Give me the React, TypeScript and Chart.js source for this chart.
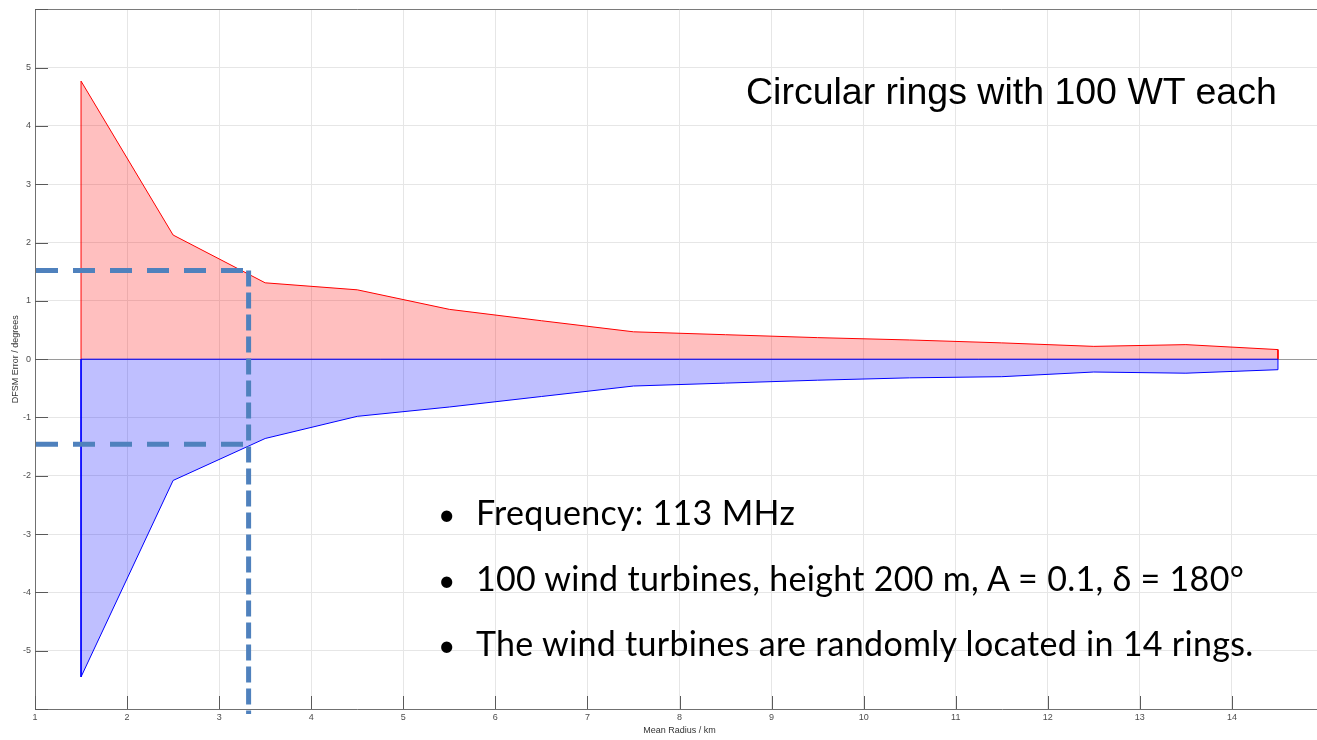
import React, { useEffect, useRef } from "react";
import { Chart, registerables } from "chart.js";

Chart.register(...registerables);

// Ring mean radii (km)
const radii = [1.5, 2.5, 3.5, 4.5, 5.5, 6.5, 7.5, 8.5, 9.5, 10.5, 11.5, 12.5, 13.5, 14.5];
// Upper envelope of DFSM error (degrees)
const upperError = [4.77, 2.13, 1.31, 1.19, 0.855, 0.66, 0.47, 0.42, 0.37, 0.33, 0.28, 0.22, 0.25, 0.165];
// Lower envelope of DFSM error (degrees)
const lowerError = [-5.45, -2.08, -1.36, -0.98, -0.82, -0.64, -0.46, -0.41, -0.36, -0.32, -0.3, -0.22, -0.24, -0.18];

// Axis ranges / tick labels
const xTicksHidden = [15];
const yTicksHidden = [-6, 6];

// Annotation (reading of the error at 3.32 km)
const markerRadius = 3.32;
const markerUpper = 1.52;
const markerLower = -1.46;

const titleText = "Circular rings with 100 WT each";
const bulletLines = [
  "Frequency: 113 MHz",
  "100 wind turbines, height 200 m, A = 0.1, δ = 180°",
  "The wind turbines are randomly located in 14 rings.",
];

const tickFont = { family: "'Liberation Sans', Arial, sans-serif", size: 9 };

const axisDecor = {
  id: "axisDecor",
  afterDatasetsDraw(chart: any) {
    const { ctx, chartArea: a, scales } = chart;
    const xs = scales.x;
    const ys = scales.y;
    ctx.save();
    // box (top edge)
    ctx.strokeStyle = "#7a7a7a";
    ctx.lineWidth = 1;
    ctx.beginPath();
    ctx.moveTo(a.left, Math.round(a.top) + 0.5);
    ctx.lineTo(a.right, Math.round(a.top) + 0.5);
    ctx.stroke();
    // inward ticks
    ctx.strokeStyle = "#5a5a5a";
    ctx.beginPath();
    ys.ticks.forEach((t: any) => {
      const y = Math.round(ys.getPixelForValue(t.value)) + 0.5;
      ctx.moveTo(a.left, y);
      ctx.lineTo(a.left + 13, y);
    });
    xs.ticks.forEach((t: any) => {
      const x = Math.round(xs.getPixelForValue(t.value)) + 0.5;
      ctx.moveTo(x, a.bottom);
      ctx.lineTo(x, a.bottom - 13);
    });
    ctx.stroke();

    // dashed marker lines
    const xm = xs.getPixelForValue(markerRadius);
    const yu = ys.getPixelForValue(markerUpper);
    const yl = ys.getPixelForValue(markerLower);
    ctx.strokeStyle = "#4f81bd";
    ctx.lineWidth = 5;
    ctx.setLineDash([22, 15]);
    ctx.beginPath();
    ctx.moveTo(a.left + 1, yu);
    ctx.lineTo(xm, yu);
    ctx.moveTo(a.left + 1, yl);
    ctx.lineTo(xm, yl);
    ctx.stroke();
    ctx.setLineDash([16, 6]);
    ctx.beginPath();
    ctx.moveTo(xm, yu);
    ctx.lineTo(xm, a.bottom + 5);
    ctx.stroke();
    ctx.restore();
  },
};

export default function App() {
  const ref = useRef<HTMLCanvasElement | null>(null);

  useEffect(() => {
    if (!ref.current) return;
    const last = radii.length - 1;
    const upperData = [
      { x: radii[0], y: 0 },
      ...radii.map((r, i) => ({ x: r, y: upperError[i] })),
      { x: radii[last], y: 0 },
    ];
    const lowerData = [
      { x: radii[0], y: 0 },
      ...radii.map((r, i) => ({ x: r, y: lowerError[i] })),
      { x: radii[last], y: 0 },
    ];
    const zeroData = [
      { x: radii[0], y: 0 },
      { x: radii[last], y: 0 },
    ];
    const chart = new Chart(ref.current, {
      type: "line",
      data: {
        datasets: [
          {
            label: "upper",
            data: upperData,
            borderColor: "#ff0000",
            backgroundColor: "rgba(255,0,0,0.25)",
            borderWidth: 1,
            pointRadius: 0,
            fill: "origin",
            order: 3,
            tension: 0,
          },
          {
            label: "lower",
            data: lowerData,
            borderColor: "#0000ff",
            backgroundColor: "rgba(0,0,255,0.25)",
            borderWidth: 1,
            pointRadius: 0,
            fill: "origin",
            order: 2,
            tension: 0,
          },
          {
            label: "zero",
            data: zeroData,
            borderColor: "#0000ff",
            borderWidth: 1,
            pointRadius: 0,
            fill: false,
            order: 1,
          },
        ],
      },
      options: {
        animation: false,
        responsive: false,
        devicePixelRatio: 1,
        layout: { padding: { top: 4, left: 0, right: 0, bottom: 0 } },
        plugins: { legend: { display: false }, tooltip: { enabled: false } },
        scales: {
          x: {
            type: "linear",
            min: 1,
            max: 15,
            ticks: {
              stepSize: 1,
              font: tickFont,
              color: "#4d4d4d",
              padding: 3,
              maxRotation: 0,
              callback: (v: any) => (xTicksHidden.includes(v) ? "" : String(v)),
            },
            grid: { color: "#e6e6e6", drawTicks: false },
            border: { color: "#707070" },
            title: {
              display: true,
              text: "Mean Radius / km",
              font: tickFont,
              color: "#333333",
              padding: { top: 0, bottom: 4 },
            },
            afterFit: (s: any) => {
              s.height = 31;
            },
          },
          y: {
            type: "linear",
            min: -6,
            max: 6,
            ticks: {
              stepSize: 1,
              font: tickFont,
              color: "#4d4d4d",
              padding: 4,
              callback: (v: any) => (yTicksHidden.includes(v) ? "" : String(v)),
            },
            grid: {
              color: (c: any) => (c.tick && c.tick.value === 0 ? "#9a9a9a" : "#e6e6e6"),
              drawTicks: false,
            },
            border: { color: "#707070" },
            title: {
              display: true,
              text: "DFSM Error / degrees",
              font: tickFont,
              color: "#333333",
              padding: { top: 10, bottom: 0 },
            },
            afterFit: (s: any) => {
              s.width = 35;
            },
          },
        },
      },
      plugins: [axisDecor],
    });
    return () => chart.destroy();
  }, []);

  const bulletFont = "34px Lato, 'Open Sans', sans-serif";
  const bulletTops = [495, 561, 626];

  return (
    <div
      style={{
        position: "fixed",
        left: 0,
        top: 0,
        width: 1317,
        height: 740,
        overflow: "hidden",
        background: "#ffffff",
      }}
    >
      <canvas ref={ref} width={1327} height={740} style={{ display: "block" }} />
      <div
        style={{
          position: "absolute",
          left: 746,
          top: 73,
          font: "37.5px 'Liberation Sans', Arial, sans-serif",
          lineHeight: "37.5px",
          whiteSpace: "nowrap",
          color: "#000",
        }}
      >
        {titleText}
      </div>
      {bulletLines.map((line, i) => (
        <div
          key={i}
          style={{
            position: "absolute",
            left: 438,
            top: bulletTops[i],
            font: bulletFont,
            lineHeight: "34px",
            whiteSpace: "nowrap",
            color: "#000",
          }}
        >
          <span style={{ display: "inline-block", width: 38, fontSize: 30 }}>•</span>
          <span style={{ letterSpacing: "0.3px" }}>{line}</span>
        </div>
      ))}
    </div>
  );
}
